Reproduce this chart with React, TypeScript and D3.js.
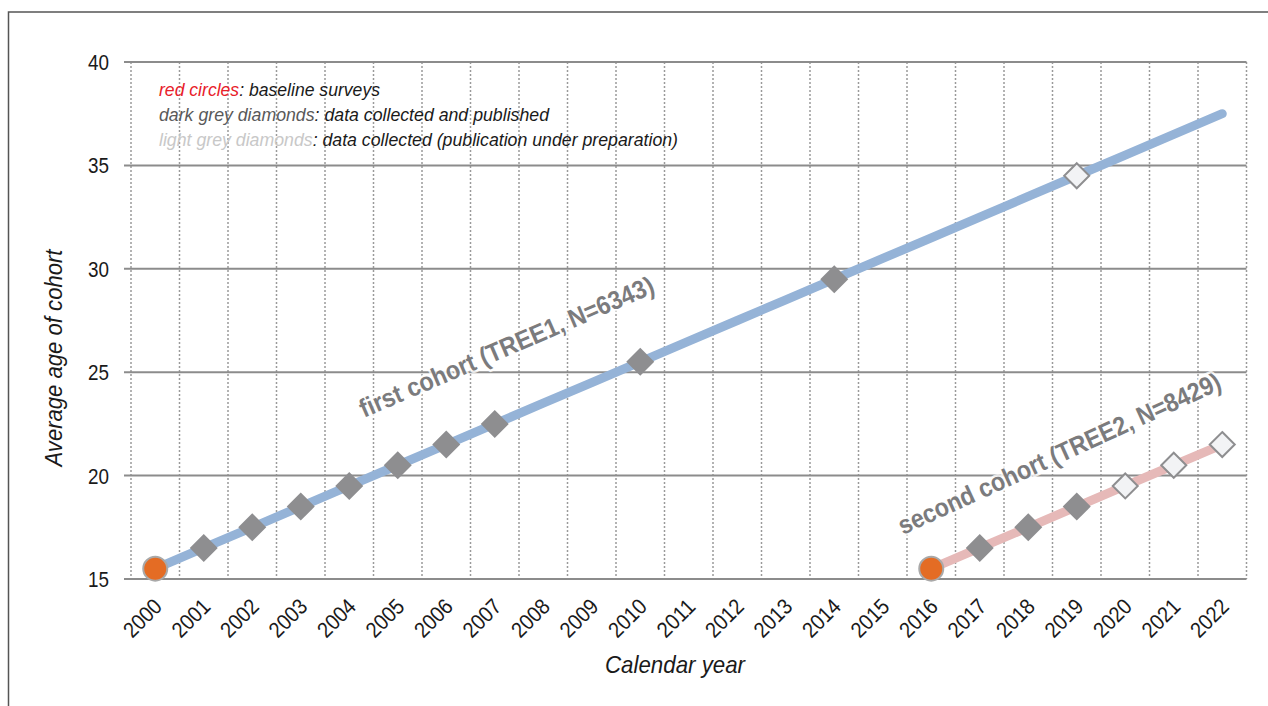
import React from "react";
import * as d3 from "d3";

const years: string[] = ["2000","2001","2002","2003","2004","2005","2006","2007","2008","2009","2010","2011","2012","2013","2014","2015","2016","2017","2018","2019","2020","2021","2022"];
const yTicks: number[] = [15, 20, 25, 30, 35, 40];

// first cohort (TREE1): average age at each calendar year (line)
const cohort1Years: string[] = ["2000","2001","2002","2003","2004","2005","2006","2007","2008","2009","2010","2011","2012","2013","2014","2015","2016","2017","2018","2019","2020","2021","2022"];
const cohort1Ages: number[] = [15.5,16.5,17.5,18.5,19.5,20.5,21.5,22.5,23.5,24.5,25.5,26.5,27.5,28.5,29.5,30.5,31.5,32.5,33.5,34.5,35.5,36.5,37.5];
// markers on first cohort
const c1BaselineYears: string[] = ["2000"];
const c1PublishedYears: string[] = ["2001","2002","2003","2004","2005","2006","2007","2010","2014"];
const c1PreparationYears: string[] = ["2019"];

// second cohort (TREE2)
const cohort2Years: string[] = ["2016","2017","2018","2019","2020","2021","2022"];
const cohort2Ages: number[] = [15.5,16.5,17.5,18.5,19.5,20.5,21.5];
const c2BaselineYears: string[] = ["2016"];
const c2PublishedYears: string[] = ["2017","2018","2019"];
const c2PreparationYears: string[] = ["2020","2021","2022"];

const FONT = "'Liberation Sans', Arial, sans-serif";

export default function App() {
  const W = 1268, H = 706;
  const x = d3.scaleBand<string>().domain(years).range([131, 1246.5]).padding(0);
  const y = d3.scaleLinear().domain([15, 40]).range([579, 62]);
  const cx = (yr: string) => (x(yr) as number) + x.bandwidth() / 2;

  const ageOf = (yrs: string[], ages: number[], yr: string) => ages[yrs.indexOf(yr)];

  const line = d3.line<[string, number]>().x(d => cx(d[0])).y(d => y(d[1]));
  const c1 = cohort1Years.map((yr, i) => [yr, cohort1Ages[i]] as [string, number]);
  const c2 = cohort2Years.map((yr, i) => [yr, cohort2Ages[i]] as [string, number]);

  const diamond = (px: number, py: number, r: number) =>
    `M${px},${py - r}L${px + r},${py}L${px},${py + r}L${px - r},${py}Z`;

  const boundaries = years.map(yr => x(yr) as number).concat([x.range()[1]]);
  const plotRight = x.range()[1];

  const markers = (yrs: string[], ages: number[], base: string[], pub: string[], prep: string[]) => (
    <g>
      {pub.map(yr => (
        <path key={"p" + yr} d={diamond(cx(yr), y(ageOf(yrs, ages, yr)), 14)} fill="#8e8e90" />
      ))}
      {prep.map(yr => (
        <path key={"q" + yr} d={diamond(cx(yr), y(ageOf(yrs, ages, yr)), 12.5)} fill="#f2f3f5" stroke="#8e8e90" strokeWidth={2} />
      ))}
      {base.map(yr => (
        <circle key={"b" + yr} cx={cx(yr)} cy={y(ageOf(yrs, ages, yr))} r={12} fill="#e46c24" stroke="#a9a9a9" strokeWidth={2} />
      ))}
    </g>
  );

  return (
    <svg width={W} height={H} style={{ position: "absolute", left: 0, top: 0, background: "#fff" }} fontFamily={FONT}>
      <rect x={0} y={0} width={W} height={H} fill="#fff" />
      {/* outer frame */}
      <path d={`M8.5,${H + 5}V12H${W + 5}`} fill="none" stroke="#555" strokeWidth={1.5} />

      {/* vertical dotted grid */}
      {boundaries.map((bx, i) => (
        <line key={"v" + i} x1={bx} x2={bx} y1={62} y2={579} stroke="#9a9a9a" strokeWidth={1.5} strokeDasharray="2,2" />
      ))}
      {/* horizontal grid */}
      {yTicks.map(t => (
        <line key={"h" + t} x1={124} x2={plotRight} y1={y(t)} y2={y(t)} stroke="#8c8c8c" strokeWidth={2} />
      ))}

      {/* y tick labels */}
      {yTicks.map(t => (
        <text key={"yl" + t} x={109} y={y(t) + 8} textAnchor="end" fontSize={22} fill="#1a1a1a" textLength={21} lengthAdjust="spacingAndGlyphs">{t}</text>
      ))}
      {/* x tick labels */}
      {years.map(yr => (
        <text key={"xl" + yr} transform={`translate(${cx(yr) + 8},${608}) rotate(-45)`} textAnchor="end" fontSize={22} fill="#1a1a1a" textLength={44} lengthAdjust="spacingAndGlyphs">{yr}</text>
      ))}

      {/* axis titles */}
      <text transform={`translate(62,358) rotate(-90)`} textAnchor="middle" fontSize={24} fontStyle="italic" fill="#1a1a1a" textLength={217} lengthAdjust="spacingAndGlyphs">Average age of cohort</text>
      <text x={675} y={673} textAnchor="middle" fontSize={24} fontStyle="italic" fill="#1a1a1a" textLength={140} lengthAdjust="spacingAndGlyphs">Calendar year</text>

      {/* legend */}
      <g fontSize={18} fontStyle="italic">
        <text x={159} y={96} textLength={221} lengthAdjust="spacingAndGlyphs"><tspan fill="#e8202a">red circles</tspan><tspan fill="#1a1a1a">: baseline surveys</tspan></text>
        <text x={159} y={121} textLength={390} lengthAdjust="spacingAndGlyphs"><tspan fill="#595959">dark grey diamonds</tspan><tspan fill="#1a1a1a">: data collected and published</tspan></text>
        <text x={159} y={146} textLength={519} lengthAdjust="spacingAndGlyphs"><tspan fill="#c8c8c8">light grey diamonds</tspan><tspan fill="#1a1a1a">: data collected (publication under preparation)</tspan></text>
      </g>

      {/* cohort labels */}
      <text transform={`translate(364,418) rotate(-23.3)`} fontSize={26} fontWeight="bold" fill="#7b7b7d" stroke="#fff" strokeWidth={5} strokeOpacity={0.8} paintOrder="stroke" textLength={318} lengthAdjust="spacingAndGlyphs">first cohort (TREE1, N=6343)</text>
      <text transform={`translate(903,535) rotate(-24.6)`} fontSize={26} fontWeight="bold" fill="#7b7b7d" stroke="#fff" strokeWidth={5} strokeOpacity={0.8} paintOrder="stroke" textLength={352} lengthAdjust="spacingAndGlyphs">second cohort (TREE2, N=8429)</text>

      {/* lines */}
      <path d={line(c1) as string} fill="none" stroke="#95b3d7" strokeWidth={9} strokeLinecap="round" />
      <path d={line(c2) as string} fill="none" stroke="#e6b9b8" strokeWidth={9} strokeLinecap="round" />

      {markers(cohort1Years, cohort1Ages, c1BaselineYears, c1PublishedYears, c1PreparationYears)}
      {markers(cohort2Years, cohort2Ages, c2BaselineYears, c2PublishedYears, c2PreparationYears)}
    </svg>
  );
}
